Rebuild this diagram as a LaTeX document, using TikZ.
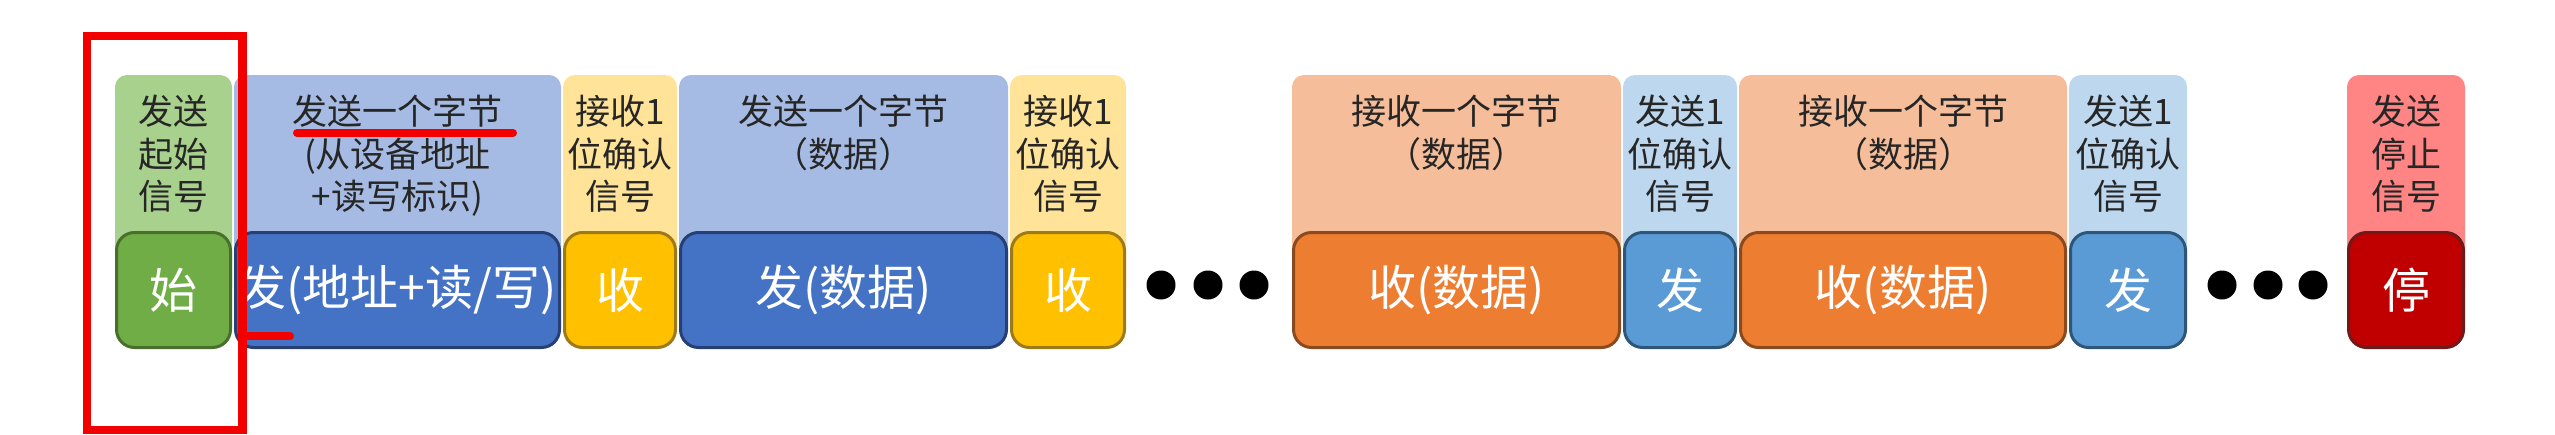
\documentclass[tikz,border=0pt]{standalone}
\usepackage{fontspec}
\newfontfamily\cjk{Noto Sans CJK SC}
\definecolor{gL}{HTML}{A9D18E}\definecolor{gD}{HTML}{70AD47}\definecolor{gB}{HTML}{48702C}
\definecolor{bL}{HTML}{A6BBE3}\definecolor{bD}{HTML}{4472C4}\definecolor{bB}{HTML}{263F74}
\definecolor{yL}{HTML}{FFE399}\definecolor{yD}{HTML}{FFC000}\definecolor{yB}{HTML}{9C7A1A}
\definecolor{oL}{HTML}{F5BD99}\definecolor{oD}{HTML}{ED7D31}\definecolor{oB}{HTML}{8A4A1E}
\definecolor{cL}{HTML}{BDD7EE}\definecolor{cD}{HTML}{5B9BD5}\definecolor{cB}{HTML}{2E5678}
\definecolor{rL}{HTML}{FF8585}\definecolor{rD}{HTML}{C00000}\definecolor{rB}{HTML}{6E1A1A}
\definecolor{tx}{HTML}{262626}
\definecolor{annot}{HTML}{F20000}
\tikzset{
  lightbox/.style={rectangle, rounded corners=12pt, draw=none, minimum height=225, inner sep=0, outer sep=0},
  darkbox/.style={rectangle, rounded corners=18pt, line width=3pt, minimum height=115, inner sep=0, outer sep=0,
    text=white, font=\cjk\fontsize{48}{50}\selectfont},
  toptext/.style={align=center, inner sep=0, text=tx, font=\cjk\fontsize{35}{42.5}\selectfont},
  dotnode/.style={circle, fill=black, draw=none, minimum size=29, inner sep=0},
  annot/.style={draw=annot, line width=8.5pt},
}
% name, centre x, width, light, dark, border, top text, bottom text
\newcommand\segpart[8]{%
  \node[lightbox, fill=#4, minimum width=#3] (#1top) at (#2,187.5) {};
  \node[darkbox, fill=#5, draw=#6, minimum width=#3-3] (#1) at (#2,290) {#8};
  \node[toptext, anchor=north] (#1lbl) at (#2,95) {#7};
}
\begin{document}
\begin{tikzpicture}[x=1pt,y=-1pt]
\fill[white] (0,0) rectangle (2555,434);
\useasboundingbox (0,0) rectangle (2555,434);
\segpart{start}{173.5}{117}{gL}{gD}{gB}{发送\\起始\\信号}{始}
\segpart{addr}{397.5}{327}{bL}{bD}{bB}{发送一个字节\\(从设备地址\\+读写标识)}{发(地址+读/写)}
\segpart{ackA}{620}{114}{yL}{yD}{yB}{接收1\\位确认\\信号}{收}
\segpart{dataA}{843.5}{329}{bL}{bD}{bB}{发送一个字节\\（数据）}{发(数据)}
\segpart{ackB}{1068}{116}{yL}{yD}{yB}{接收1\\位确认\\信号}{收}
\node[dotnode] (d1) at (1161,285) {};
\node[dotnode] (d2) at (1208,285) {};
\node[dotnode] (d3) at (1254,285) {};
\segpart{rdA}{1456.5}{329}{oL}{oD}{oB}{接收一个字节\\（数据）}{收(数据)}
\segpart{sackA}{1680}{114}{cL}{cD}{cB}{发送1\\位确认\\信号}{发}
\segpart{rdB}{1903}{328}{oL}{oD}{oB}{接收一个字节\\（数据）}{收(数据)}
\segpart{sackB}{2128}{118}{cL}{cD}{cB}{发送1\\位确认\\信号}{发}
\node[dotnode] (d4) at (2222,285) {};
\node[dotnode] (d5) at (2268,285) {};
\node[dotnode] (d6) at (2313,285) {};
\segpart{stop}{2406}{118}{rL}{rD}{rB}{发送\\停止\\信号}{停}
% red annotations
\draw[annot] (87,36) rectangle (242.5,430);
\draw[annot, line width=8pt, line cap=round] (297,133) -- (513,133);
\draw[annot, line width=8pt, line cap=round] (242.5,336) -- (290,336);
\end{tikzpicture}
\end{document}
